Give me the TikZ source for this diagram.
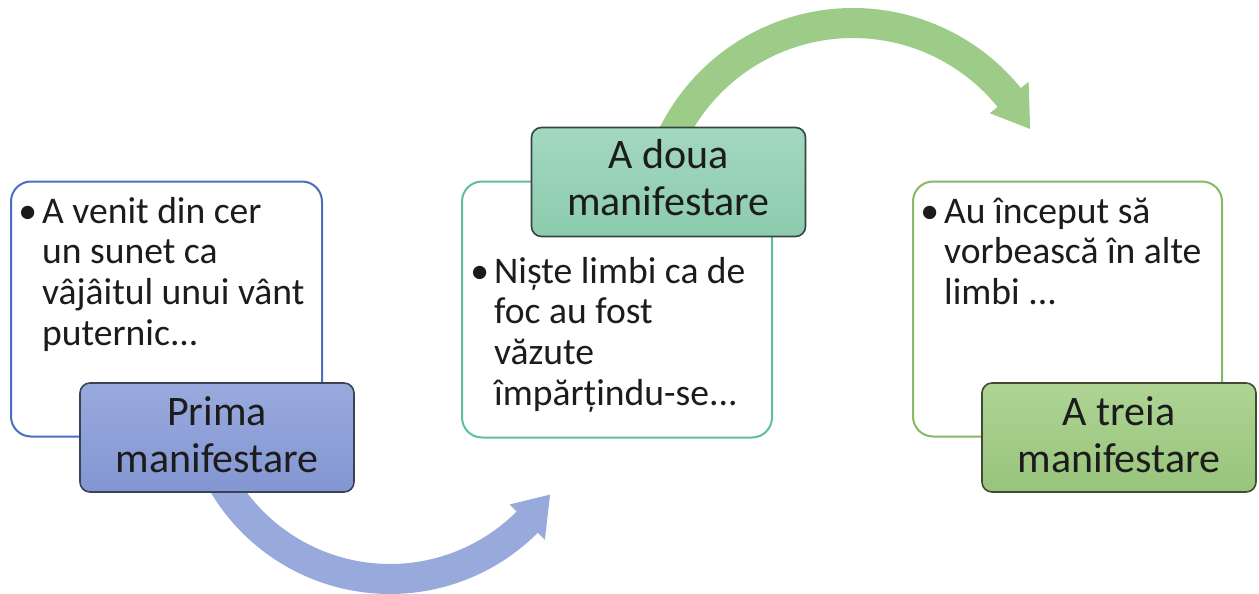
\documentclass[tikz,border=0pt]{standalone}
\usepackage{fontspec}
\setmainfont{Carlito}
\usetikzlibrary{calc}
\definecolor{bordA}{HTML}{4A6FC0}
\definecolor{bordB}{HTML}{5FBF9A}
\definecolor{bordC}{HTML}{86B963}
\definecolor{fillAt}{HTML}{98AADD}
\definecolor{fillAb}{HTML}{8496D2}
\definecolor{fillBt}{HTML}{A2D8C0}
\definecolor{fillBb}{HTML}{8CCBAE}
\definecolor{fillCt}{HTML}{AFD494}
\definecolor{fillCb}{HTML}{98C47C}
\definecolor{edgeA}{HTML}{3A4255}
\definecolor{edgeB}{HTML}{34473F}
\definecolor{edgeC}{HTML}{3F4A37}
\definecolor{arrA}{HTML}{98AADB}
\definecolor{arrB}{HTML}{9DCC88}
\definecolor{txt}{HTML}{1C1C1C}
\tikzset{
  bodybox/.style={draw, line width=2pt, rounded corners=20pt, fill=white, inner sep=0pt},
  labelbox/.style={draw, line width=1.6pt, rounded corners=10pt, inner sep=0pt,
    minimum width=274pt, minimum height=109pt, align=center, text=txt,
    font={\fontsize{42}{47}\selectfont}},
  bodytext/.style={anchor=north west, inner sep=0pt, align=left, text=txt,
    font={\fontsize{37.6}{40.7}\selectfont}},
  band/.style={line width=30pt},
}
\newcommand{\bul}{\llap{•\hspace{5pt}}}
\begin{document}
\begin{tikzpicture}[x=1pt, y=-1pt]
\useasboundingbox (0,0) rectangle (1259,594);
% arrows (drawn first, beneath the labels)
\coordinate (cA) at (390,385);
\coordinate (cB) at (853,224);
\draw[band, arrA] plot[smooth, domain=150:44, samples=40] ({390+194*cos(\x)},{385+194*sin(\x)});
\fill[arrA] ($(cA)+(45:169)$) coordinate (wA1) -- ($(cA)+(34.4:194)$) coordinate (tipA)
  -- ($(cA)+(45:219)$) coordinate (wA2) -- cycle;
\draw[band, arrB] plot[smooth, domain=205:322, samples=40] ({853+201*cos(\x)},{224+201*sin(\x)});
\fill[arrB] ($(cB)+(321:176)$) coordinate (wB1) -- ($(cB)+(331.8:201)$) coordinate (tipB)
  -- ($(cB)+(321:226)$) coordinate (wB2) -- cycle;
% body boxes
\node[bodybox, draw=bordA, minimum width=311pt, minimum height=255pt] (box1) at (166.5,309) {};
\node[bodybox, draw=bordB, minimum width=310pt, minimum height=256pt] (box2) at (617,309.5) {};
\node[bodybox, draw=bordC, minimum width=309pt, minimum height=255pt] (box3) at (1067.5,309) {};
% body texts
\node[bodytext] (t1) at (42,193) {\bul\rule{0pt}{30pt}A venit din cer\\un sunet ca\\vâjâitul unui vânt\\puternic...};
\node[bodytext] (t2) at (494,253) {\bul\rule{0pt}{30pt}Niște limbi ca de\\foc au fost\\văzute\\împărțindu-se...};
\node[bodytext] (t3) at (944,193) {\bul\rule{0pt}{30pt}Au început să\\vorbească în alte\\limbi ...};
% labels
\node[labelbox, draw=edgeA, top color=fillAt, bottom color=fillAb] (lab1) at (217,437.5)
  {\rule{0pt}{35pt}Prima\\manifestare\rule[-13pt]{0pt}{0pt}};
\node[labelbox, draw=edgeB, top color=fillBt, bottom color=fillBb] (lab2) at (668.5,182)
  {\rule{0pt}{35pt}A doua\\manifestare\rule[-16pt]{0pt}{0pt}};
\node[labelbox, draw=edgeC, top color=fillCt, bottom color=fillCb] (lab3) at (1119,437.5)
  {\rule{0pt}{35pt}A treia\\manifestare\rule[-13pt]{0pt}{0pt}};
\end{tikzpicture}
\end{document}
